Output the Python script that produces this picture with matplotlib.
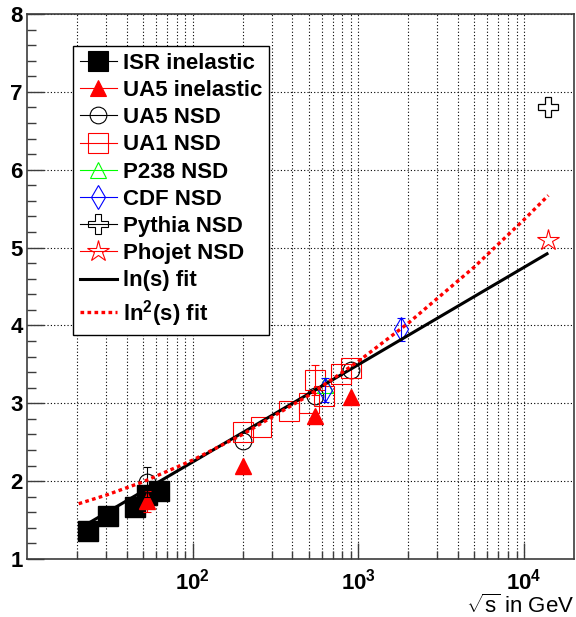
import numpy as np
import matplotlib
matplotlib.use("Agg")
import matplotlib.pyplot as plt
from matplotlib.lines import Line2D
from matplotlib.ticker import FixedLocator, MultipleLocator, NullFormatter

## measurements: charged multiplicity density vs sqrt(s)
isr_x = [23.5, 30.7, 44.7, 52.8, 62.4]
isr_y = [1.36, 1.55, 1.67, 1.82, 1.87]

ua5_inel_x = [53, 200, 546, 900]
ua5_inel_y = [1.74, 2.19, 2.84, 3.08]
ua5_inel_err = [0.13, 0.0, 0.0, 0.0]

ua5_nsd_x = [53, 200, 546, 900]
ua5_nsd_y = [1.99, 2.51, 3.10, 3.43]
ua5_nsd_err = [0.19, 0.0, 0.0, 0.0]

ua1_x = [200, 260, 380, 500, 546, 620, 790, 900]
ua1_y = [2.63, 2.69, 2.90, 3.00, 3.30, 3.10, 3.37, 3.45]
ua1_err = [0.0, 0.0, 0.0, 0.0, 0.19, 0.0, 0.0, 0.0]

p238_x = [630]
p238_y = [3.24]

cdf_x = [630, 1800]
cdf_y = [3.17, 3.95]
cdf_err = [0.15, 0.15]

pythia_x = [14000]
pythia_y = [6.81]

phojet_x = [14000]
phojet_y = [5.10]

# fit curves
lnfit_x = [23.5, 14000]
lnfit_y = [1.46, 4.93]
ln2fit_x = [20.5, 30, 50, 100, 200, 500, 1000, 2000, 5000, 10000, 14000]
ln2fit_y = [1.71, 1.82, 1.99, 2.27, 2.60, 3.10, 3.54, 4.03, 4.75, 5.36, 5.67]

## Plot styling
plt.rcParams["font.family"] = ["Liberation Sans", "DejaVu Sans"]
plt.rcParams["font.weight"] = "bold"
plt.rcParams["mathtext.fontset"] = "custom"
plt.rcParams["mathtext.rm"] = "Liberation Sans:bold"
plt.rcParams["mathtext.bf"] = "Liberation Sans:bold"
plt.rcParams["mathtext.it"] = "Liberation Sans:bold"

RED = "#ff0000"
GREEN = "#00ff00"
BLUE = "#0000ff"
FRAME = "#3c3c3c"

fig = plt.figure(figsize=(5.76, 6.17), dpi=100)
ax = fig.add_axes([27/576, 58/617, 547/576, 545/617])


def with_errors(x, y, err, color):
    x, y, err = np.asarray(x), np.asarray(y), np.asarray(err)
    m = err > 0
    if m.any():
        ax.errorbar(x[m], y[m], yerr=err[m], fmt="none", ecolor=color,
                    elinewidth=0.8, capsize=3, capthick=0.8, zorder=3)


ax.plot(isr_x, isr_y, ls="none", marker="s", ms=14, mfc="black", mec="black", zorder=3)

with_errors(ua5_inel_x, ua5_inel_y, ua5_inel_err, RED)
ax.plot(ua5_inel_x, ua5_inel_y, ls="none", marker="^", ms=12, mfc=RED, mec=RED, zorder=3)

with_errors(ua5_nsd_x, ua5_nsd_y, ua5_nsd_err, "black")
ax.plot(ua5_nsd_x, ua5_nsd_y, ls="none", marker="o", ms=12, mfc="none", mec="black", mew=0.8, zorder=3)

with_errors(ua1_x, ua1_y, ua1_err, RED)
ax.plot(ua1_x, ua1_y, ls="none", marker="s", ms=14, mfc="none", mec=RED, mew=0.8, zorder=3)

ax.plot(p238_x, p238_y, ls="none", marker="^", ms=12, mfc="none", mec=GREEN, mew=0.8, zorder=3)

with_errors(cdf_x, cdf_y, cdf_err, BLUE)
ax.plot(cdf_x, cdf_y, ls="none", marker="d", ms=12, mfc="none", mec=BLUE, mew=0.8, zorder=3)

ax.plot(pythia_x, pythia_y, ls="none", marker="P", ms=14, mfc="none", mec="black", mew=0.9, zorder=3)
ax.plot(phojet_x, phojet_y, ls="none", marker="*", ms=16, mfc="none", mec=RED, mew=0.8, zorder=3)

ax.plot(lnfit_x, lnfit_y, color="black", lw=2.2, solid_capstyle="butt", zorder=4)
ax.plot(ln2fit_x, ln2fit_y, color=RED, lw=2.4, ls=(0, (1.1, 1.0)), zorder=5)

## axes
ax.set_xscale("log")
ax.set_xlim(10, 2e4)
ax.set_ylim(1, 8)
ax.xaxis.set_major_locator(FixedLocator([1e2, 1e3, 1e4]))
minors = [k*10**d for d in (1, 2, 3) for k in range(2, 10)]
ax.xaxis.set_minor_locator(FixedLocator(minors))
ax.xaxis.set_minor_formatter(NullFormatter())
ax.yaxis.set_major_locator(MultipleLocator(1))
ax.yaxis.set_minor_locator(MultipleLocator(0.2))

ax.grid(True, which="both", axis="x", color="black", lw=0.8, ls=(0, (1, 2)))
ax.grid(True, which="major", axis="y", color="black", lw=0.8, ls=(0, (1, 2)))
ax.set_axisbelow(True)

for sp in ax.spines.values():
    sp.set_color(FRAME)
    sp.set_linewidth(1.2)

ax.tick_params(which="both", direction="in", color=FRAME, width=1.0, top=False, right=False)
ax.tick_params(axis="y", which="major", length=12, pad=3, labelsize=16)
ax.tick_params(axis="y", which="minor", length=6.5)
ax.tick_params(axis="x", which="major", length=11.5, pad=7, labelsize=16)
ax.tick_params(axis="x", which="minor", length=6)

ax.set_xlabel(r"$\sqrt{\mathdefault{s}}$ in GeV", loc="right", fontsize=16, labelpad=0)

## legend
def proxy(marker, color, mfc, ms, lw=0.8, ls="-"):
    return Line2D([], [], color=color, marker=marker, ms=ms, mfc=mfc, mec=color, mew=0.8, lw=lw, ls=ls)

handles = [
    proxy("s", "black", "black", 14),
    proxy("^", RED, RED, 12),
    proxy("o", "black", "none", 12),
    proxy("s", RED, "none", 14),
    proxy("^", GREEN, "none", 12),
    proxy("d", BLUE, "none", 12),
    proxy("P", "black", "none", 14),
    proxy("*", RED, "none", 16),
    Line2D([], [], color="black", lw=2.2),
    Line2D([], [], color=RED, lw=2.4, ls=(0, (1.1, 1.0))),
]
labels = ["ISR inelastic", "UA5 inelastic", "UA5 NSD", "UA1 NSD", "P238 NSD",
          "CDF NSD", "Pythia NSD", "Phojet NSD", "ln(s) fit", r"ln$^{\mathdefault{2}}$(s) fit"]
leg = ax.legend(handles, labels, loc="upper left", bbox_to_anchor=(46/547, 513/545),
                borderaxespad=0, fontsize=16, fancybox=False, framealpha=1,
                edgecolor="black", handlelength=1.67, handletextpad=0.27,
                labelspacing=0.28, borderpad=0.3)
leg.get_frame().set_linewidth(1.0)
leg.set_zorder(10)

fig.savefig("out.png", dpi=100)
